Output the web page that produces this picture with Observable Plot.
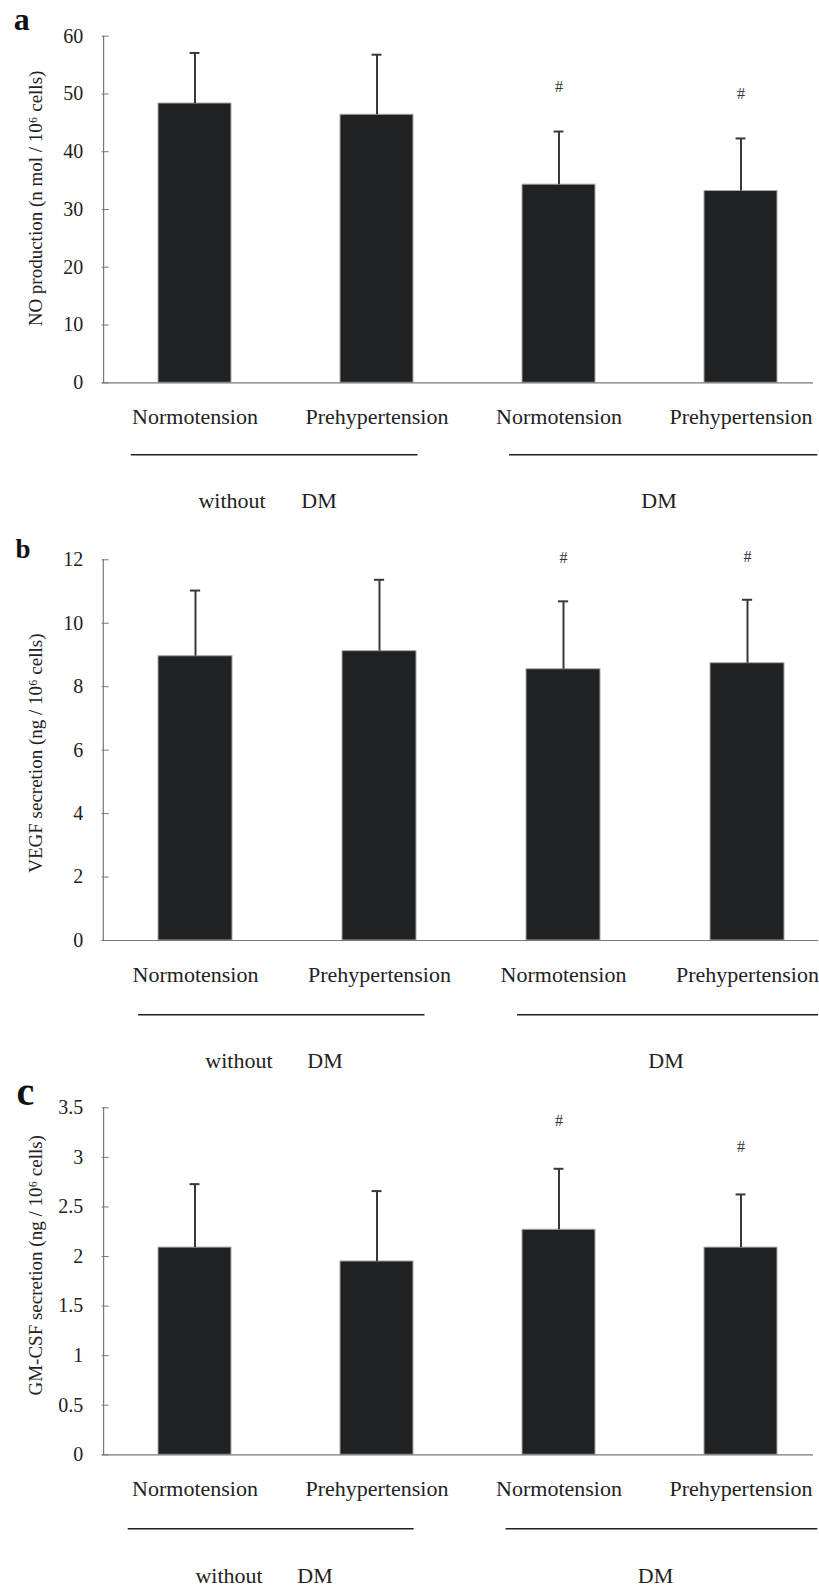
<!DOCTYPE html>
<html><head><meta charset="utf-8">
<script src="https://cdn.jsdelivr.net/npm/d3@7"></script>
<script src="https://cdn.jsdelivr.net/npm/@observablehq/plot@0.6"></script>
<style>
body{margin:0;background:#fff;width:819px;}
#chart svg{display:block;}
</style></head><body><div id="chart"></div>
<script>
const categories = ["Normotension","Prehypertension","Normotension","Prehypertension"];
const groups = ["without DM","without DM","DM","DM"];
const keys = categories.map((c,i)=>groups[i]+"|"+c);
const significant = [false,false,true,true];

const noMean = [48.35,46.4,34.3,33.2];
const noUpper = [57.1,56.8,43.5,42.3];
const vegfMean = [8.96,9.12,8.55,8.74];
const vegfUpper = [11.03,11.37,10.69,10.74];
const gmcsfMean = [2.09,1.95,2.27,2.09];
const gmcsfUpper = [2.73,2.66,2.885,2.626];

const noTicks = [0,10,20,30,40,50,60];
const vegfTicks = [0,2,4,6,8,10,12];
const gmcsfTicks = [0,0.5,1,1.5,2,2.5,3,3.5];

const panelLetters = ["a","b","c"];
const yLabels = ["NO production (n mol / 10⁶ cells)","VEGF secretion (ng / 10⁶ cells)","GM-CSF secretion (ng / 10⁶ cells)"];
const groupTexts = ["without","DM","DM"];
const hashText = "#";

const font = "'Liberation Serif','Times New Roman',serif";

function panel(o) {
  const data = keys.map((k,i)=>({key:k, mean:o.mean[i], upper:o.upper[i], sig:significant[i]}));
  const step = (o.xr[1]-o.xr[0])/4;
  const bw = 0.4*step;
  const ymax = o.ticks[o.ticks.length-1];
  return Plot.plot({
    width: 819, height: o.height,
    marginLeft: o.xr[0], marginRight: o.mr, marginTop: o.mt, marginBottom: o.mb,
    style: {fontFamily: font, background:"#fff", color:"#222", overflow:"visible"},
    x: {type:"band", domain: keys, range: o.xr, paddingInner:0.6, paddingOuter:0.3, axis:null},
    y: {domain:[0, ymax], axis:null},
    marks: [
      Plot.barY(data, {x:"key", y:"mean", fill:"#202122", stroke:"#a8a8a8", strokeWidth:1}),
      Plot.ruleX(data, {x:"key", y1:"mean", y2:"upper", stroke:"#383838", strokeWidth:2}),
      Plot.tickY(data, {x:"key", y:"upper", stroke:"#383838", strokeWidth:2, insetLeft:(bw-10)/2, insetRight:(bw-10)/2}),
      Plot.text(data.filter(d=>d.sig), {x:"key", y:"upper", text:()=>hashText, dy:o.hashDy, fontSize:16, fill:"#333"}),
      Plot.ruleY([0], {y: d=>d, stroke:"#777", strokeWidth:1.2}),
      Plot.ruleX([keys[0]], {x: d=>d, y1: ()=>0, y2: ()=>ymax, dx: -step/2, stroke:"#777", strokeWidth:1.2}),
      Plot.axisY({ticks:o.ticks, tickSize:-7, tickPadding:26, tickFormat:d=>String(d), fontSize:20, label:null, stroke:"#777", fill:"#222"}),
      Plot.axisX({tickSize:0, tickPadding:26, fontSize:22, tickFormat:k=>k.split("|")[1], label:null, fill:"#222"}),
      Plot.ruleY([0], {x1: ()=>keys[0], x2: ()=>keys[1], y: d=>d, dy:o.lineDy, insetLeft:o.line1[0], insetRight:o.line1[1], stroke:"#222", strokeWidth:1.5}),
      Plot.ruleY([0], {x1: ()=>keys[2], x2: ()=>keys[3], y: d=>d, dy:o.lineDy, insetLeft:o.line2[0], insetRight:o.line2[1], stroke:"#222", strokeWidth:1.5}),
      Plot.text([keys[0]], {x:d=>d, frameAnchor:"bottom", text:()=>groupTexts[0], dx:o.textDx[0], dy:o.textDy, fontSize:22, lineAnchor:"middle", fill:"#222"}),
      Plot.text([keys[1]], {x:d=>d, frameAnchor:"bottom", text:()=>groupTexts[1], dx:o.textDx[1], dy:o.textDy, fontSize:22, lineAnchor:"middle", fill:"#222"}),
      Plot.text([keys[2]], {x:d=>d, frameAnchor:"bottom", text:()=>groupTexts[2], dx:o.textDx[2], dy:o.textDy, fontSize:22, lineAnchor:"middle", fill:"#222"}),
      Plot.text([o.ylabel], {frameAnchor:"left", text:d=>d, rotate:-90, textAnchor:"middle", lineAnchor:"middle", dx:-66.7, dy:o.ylDy, fontSize:19, fill:"#222"}),
      Plot.text([o.letter], {frameAnchor:"top-left", text:d=>d, textAnchor:"start", lineAnchor:"middle", dx:o.letterDx, dy:o.letterDy, fontSize:o.letterSize, fontWeight:"bold", fill:"#111"})
    ]
  });
}

const chart = document.getElementById("chart");
chart.append(panel({
  mean:noMean, upper:noUpper, ticks:noTicks, ylabel:yLabels[0], letter:panelLetters[0],
  height:530, mt:35.7, mb:147.7, xr:[101.7,832.9], mr:6,
  lineDy:72, textDy:118.4, line1:[-27.2,-4.5], line2:[-13,-40.3], textDx:[37,-58,100],
  hashDy:-45, ylDy:-11, letterDx:-88.4, letterDy:-16.9, letterSize:32
}));
chart.append(panel({
  mean:vegfMean, upper:vegfUpper, ticks:vegfTicks, ylabel:yLabels[1], letter:panelLetters[1],
  height:560, mt:29.3, mb:150, xr:[101.7,839.3], mr:1,
  lineDy:74.3, textDy:120.7, line1:[-19.9,-8.5], line2:[-9,-34], textDx:[43.4,-54.5,102.5],
  hashDy:-43, ylDy:3, letterDx:-86.7, letterDy:-10.6, letterSize:27
}));
chart.append(panel({
  mean:gmcsfMean, upper:gmcsfUpper, ticks:gmcsfTicks, ylabel:yLabels[2], letter:panelLetters[2],
  height:500, mt:17.3, mb:135.7, xr:[101.7,832.9], mr:6,
  lineDy:74, textDy:120.7, line1:[-30.3,-0.7], line2:[-16.5,-40.3], textDx:[34,-62,96.5],
  hashDy:-48, ylDy:-16, letterDx:-85.7, letterDy:-16.1, letterSize:40
}));
</script>
</body></html>
